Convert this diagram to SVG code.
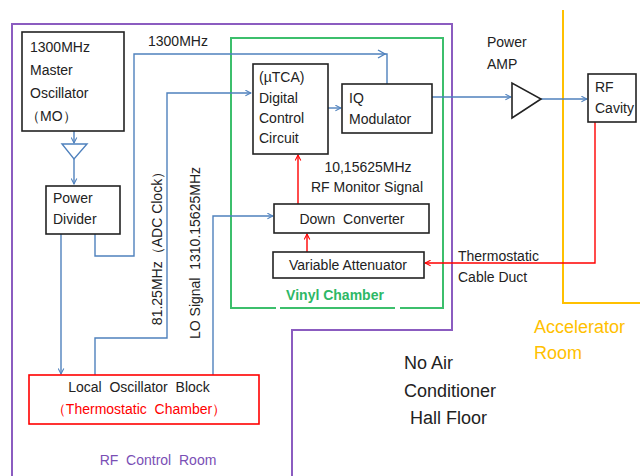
<svg xmlns="http://www.w3.org/2000/svg" width="640" height="476" viewBox="0 0 640 476">
<defs>
<marker id="ab" viewBox="0 0 10 10" refX="9" refY="5" markerWidth="7" markerHeight="7" markerUnits="userSpaceOnUse" orient="auto"><path d="M1,1 L9,5 L1,9" fill="none" stroke="#4F81BD" stroke-width="1.5"/></marker>
<marker id="ar" viewBox="0 0 10 10" refX="9" refY="5" markerWidth="7" markerHeight="7" markerUnits="userSpaceOnUse" orient="auto"><path d="M1,1 L9,5 L1,9" fill="none" stroke="#FF0000" stroke-width="1.5"/></marker>
</defs>
<style>
text{font-family:"Liberation Sans","DejaVu Sans",sans-serif;font-size:14px;fill:#222;white-space:pre}
.box{fill:#fff;stroke:#222;stroke-width:1.6}
.bl{fill:none;stroke:#4F81BD;stroke-width:1.4}
.rd{fill:none;stroke:#FF0000;stroke-width:1.4}
.big{font-size:18px}
</style>
<rect width="640" height="476" fill="#fff"/>
<g id="rooms">
<path d="M12,476 V24 H452 V330 H292 V476" fill="none" stroke="#8B5CC0" stroke-width="2"/>
<path d="M276,308 H231 V38 H443 V308 H400 M395,308 H280" fill="none" stroke="#3CBF6C" stroke-width="2"/>
<path d="M563,10 V303 H640" fill="none" stroke="#FFC000" stroke-width="2"/>
</g>
<g id="connectors">
<path class="bl" d="M74,131 V143" marker-end="url(#ab)"/>
<path class="bl" d="M74,159 V184" marker-end="url(#ab)"/>
<path class="bl" d="M61,234 V374" marker-end="url(#ab)"/>
<path class="bl" d="M95,234 V256 H134 V54 H387 V84"/>
<path class="bl" d="M378,50 L385,54 L378,58"/>
<path class="bl" d="M95,375 V338 H167 V93 H251" marker-end="url(#ab)"/>
<path class="bl" d="M213,375 V216 H273" marker-end="url(#ab)"/>
<path class="bl" d="M328,108 H341" marker-end="url(#ab)"/>
<path class="bl" d="M432,97 H511" marker-end="url(#ab)"/>
<path class="bl" d="M541,99 H587" marker-end="url(#ab)"/>
<path class="rd" d="M595,122 V263 H425" marker-end="url(#ar)"/>
<path class="rd" d="M307,252 V234" marker-end="url(#ar)"/>
<path class="rd" d="M298,204 V155" marker-end="url(#ar)"/>
</g>
<g id="mo">
<rect class="box" x="22" y="32" width="102" height="99"/>
<text x="30" y="52" font-size="15">1300MHz</text>
<text x="30" y="75" font-size="15">Master</text>
<text x="30" y="98" font-size="15">Oscillator</text>
<text x="26" y="121" font-size="15">（MO）</text>
</g>
<g id="amp1"><path d="M62,144 H87 L74,159 Z" fill="#fff" stroke="#4F81BD" stroke-width="1.4"/></g>
<g id="divider">
<rect class="box" x="46" y="186" width="74" height="48"/>
<text x="53" y="203">Power</text>
<text x="53" y="224">Divider</text>
</g>
<g id="dcc">
<rect class="box" x="253" y="64" width="75" height="90"/>
<text x="259" y="82">(µTCA)</text>
<text x="259" y="103">Digital</text>
<text x="259" y="123">Control</text>
<text x="259" y="143">Circuit</text>
</g>
<g id="iq">
<rect class="box" x="342" y="84" width="90" height="49"/>
<text x="349" y="103">IQ</text>
<text x="349" y="124">Modulator</text>
</g>
<g id="pamp">
<path d="M512,83 V118 L541,99 Z" fill="#fff" stroke="#222" stroke-width="1.6"/>
<text x="487" y="47">Power</text>
<text x="487" y="69">AMP</text>
</g>
<g id="cavity">
<rect class="box" x="588" y="74" width="48" height="48"/>
<text x="595" y="92">RF</text>
<text x="595" y="113">Cavity</text>
</g>
<g id="dc">
<rect class="box" x="274" y="204" width="155" height="29"/>
<text x="352" y="224" text-anchor="middle">Down  Converter</text>
</g>
<g id="va">
<rect class="box" x="273" y="252" width="151" height="26"/>
<text x="348" y="270" text-anchor="middle" font-size="13">Variable Attenuator</text>
</g>
<g id="lob">
<rect x="29" y="375" width="230" height="49" fill="#fff" stroke="#FF0000" stroke-width="1.6"/>
<text x="139" y="392" text-anchor="middle" font-size="15">Local  Oscillator  Block</text>
<text x="139" y="414" text-anchor="middle" font-size="15" style="fill:#FF0000">（Thermostatic  Chamber）</text>
</g>
<g id="labels">
<text x="148" y="46">1300MHz</text>
<text x="368" y="172" text-anchor="middle" font-size="13">10,15625MHz</text>
<text x="367" y="192" text-anchor="middle" font-size="13">RF Monitor Signal</text>
<text x="335" y="300" text-anchor="middle" font-size="13" font-weight="bold" style="fill:#2DB866">Vinyl Chamber</text>
<text x="458" y="261" font-size="13">Thermostatic</text>
<text x="458" y="282" font-size="13">Cable Duct</text>
<text transform="translate(162,245) rotate(-90)" text-anchor="middle" font-size="13">81.25MHz（ADC Clock）</text>
<text transform="translate(200,253) rotate(-90)" text-anchor="middle" font-size="13">LO Signal  1310.15625MHz</text>
<text x="158" y="465" text-anchor="middle" font-size="15" style="fill:#7A4FB5">RF  Control  Room</text>
<text class="big" x="404" y="369">No Air</text>
<text class="big" x="404" y="397">Conditioner</text>
<text class="big" x="410" y="424">Hall Floor</text>
<text class="big" x="534" y="333" style="fill:#FFC000">Accelerator</text>
<text class="big" x="534" y="359" style="fill:#FFC000">Room</text>
</g>
</svg>
